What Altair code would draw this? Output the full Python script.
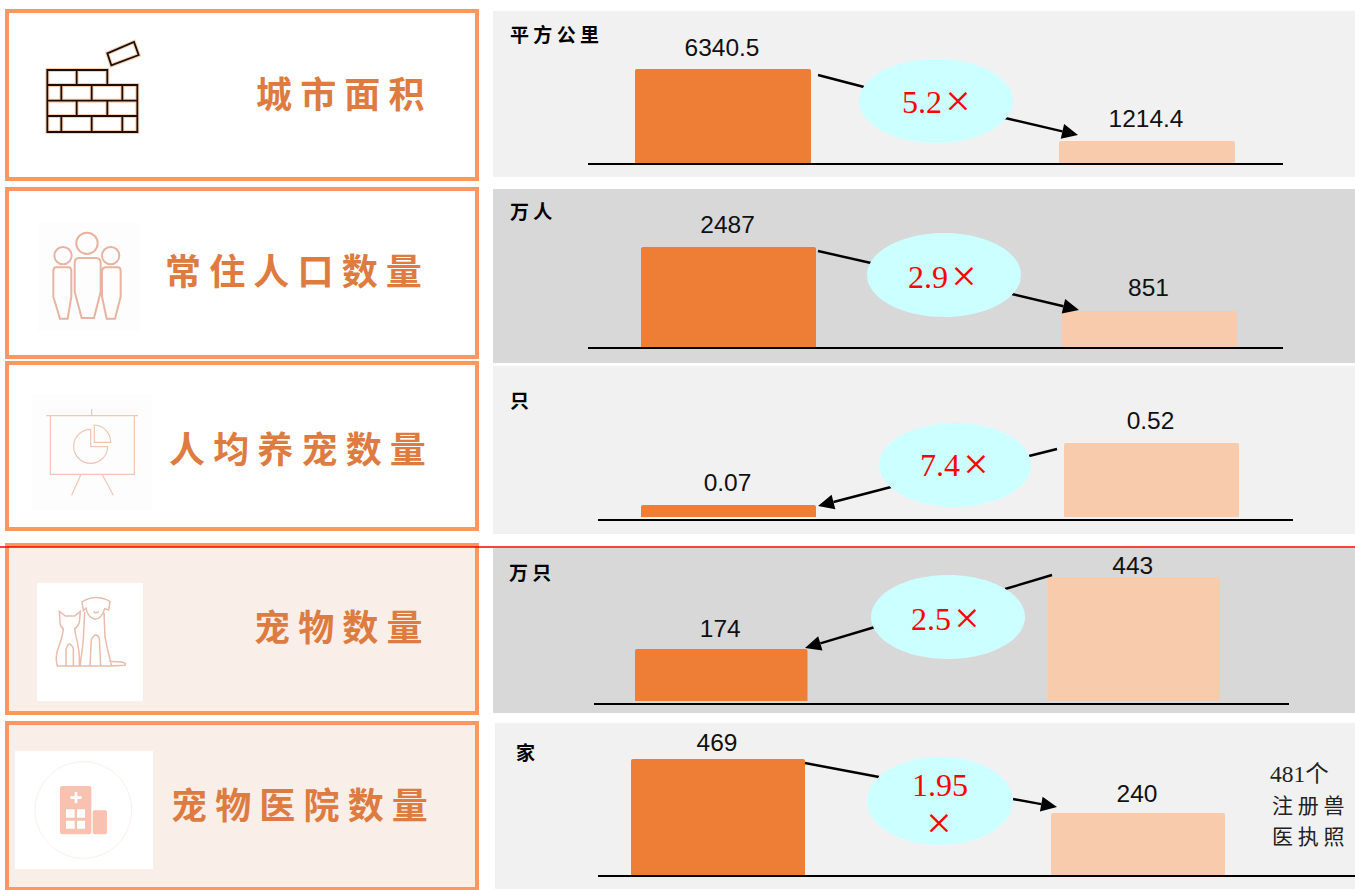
import altair as alt

# ---- values ----
titles = ["城市面积", "常住人口数量", "人均养宠数量", "宠物数量", "宠物医院数量"]
units = ["平方公里", "万人", "只", "万只", "家"]
city_a = [6340.5, 2487, 0.07, 174, 469]
city_b = [1214.4, 851, 0.52, 443, 240]
value_text = [("6340.5", "1214.4"), ("2487", "851"), ("0.07", "0.52"), ("174", "443"), ("469", "240")]
multiples = ["5.2", "2.9", "7.4", "2.5", "1.95"]
note_lines = ["481个", "注册兽", "医执照"]

# ---- layout of the five rows ----
W, H = 1355, 890
ORANGE, PEACH = "#EE7D35", "#F7CBAC"
FRAME = "#FF975E"
TITLE_INK = "#DD7B40"
CJK = "Noto Sans CJK SC"
SERIF = "Liberation Serif, Noto Sans CJK SC"
LATIN = "Liberation Sans"

ROWS = [
    dict(card=(7, 11, 477, 179), card_fill="#FFFFFF", panel=(493, 11, 1355, 177), panel_fill="#F1F1F1",
         bars=(635, 1235, 176), base=163, top=69, floor=-352, gaps=(13, 14),
         axis=(588, 1283, 164), ell=(936, 101, 77, 42), title=(256, 97), unit=(510, 36),
         lines=[(818, 75, 864, 87)], arrow=(1005, 118, 1078, 135), mult=(942, 103)),
    dict(card=(7, 189, 477, 357), card_fill="#FFFFFF", panel=(493, 189, 1355, 363), panel_fill="#D8D8D8",
         bars=(641, 1237, 175), base=347, top=247, floor=-69, gaps=(14, 15),
         axis=(588, 1283, 348), ell=(944, 275, 77, 42), title=(165, 274), unit=(510, 213),
         lines=[(818, 251, 871, 263)], arrow=(1012, 294, 1079, 310), mult=(948, 278)),
    dict(card=(7, 363, 477, 529), card_fill="#FFFFFF", panel=(493, 366, 1355, 534), panel_fill="#F1F1F1",
         bars=(641, 1239, 175), base=517, top=443, floor=-0.017, gaps=(14, 14),
         axis=(598, 1293, 520), ell=(955, 465, 76, 42), title=(169, 452), unit=(510, 402),
         lines=[(1057, 449, 1029, 456)], arrow=(891, 487, 818, 506), mult=(960, 466)),
    dict(card=(7, 545, 477, 713), card_fill="#F9EEE8", panel=(493, 548, 1355, 713), panel_fill="#D8D8D8",
         bars=(635, 1220, 172.5), base=701, top=577, floor=-20, gaps=(12, 3),
         axis=(594, 1289, 704), ell=(948, 617, 77, 42), title=(254, 630), unit=(509, 574),
         lines=[(1052, 575, 1005, 589)], arrow=(875, 627, 805, 648), mult=(951, 620)),
    dict(card=(7, 723, 477, 889), card_fill="#F9EEE8", panel=(495, 723, 1355, 889), panel_fill="#F1F1F1",
         bars=(631, 1225, 174), base=875, top=759, floor=-23, gaps=(8, 11),
         axis=(598, 1355, 876), ell=(940, 801, 73, 44), title=(171, 808), unit=(516, 754),
         lines=[(805, 763, 879, 777)], arrow=(1013, 799, 1057, 807), mult=None),
]

blank = alt.Data(values=[{}])


def box(x0, y0, x1, y1, fill, **mark):
    return alt.Chart(blank).mark_rect(fill=fill, **mark).encode(
        x=alt.value(x0), x2=alt.value(x1), y=alt.value(y0), y2=alt.value(y1))


def segment(x0, y0, x1, y1, color="#000000", width=2):
    return alt.Chart(blank).mark_rule(color=color, strokeWidth=width).encode(
        x=alt.value(x0), x2=alt.value(x1), y=alt.value(y0), y2=alt.value(y1))


def label(text, x, y, size, font=CJK, color="#000000", align="left", weight="normal", baseline="middle", **mark):
    return alt.Chart(blank).mark_text(
        text=text, font=font, fontSize=size, color=color, align=align,
        baseline=baseline, fontWeight=weight, **mark
    ).encode(x=alt.value(x), y=alt.value(y))


def outline(path, ox=0, oy=0, scale=1.0, fill=None, stroke=None, width=1.0):
    """Free-form SVG path drawn as a symbol; a symbol of size 4 keeps path units at one pixel."""
    style = dict(shape=path, size=4 * scale * scale, strokeWidth=width, opacity=1)
    style["fill"] = fill if fill else "transparent"
    style["stroke"] = stroke if stroke else "transparent"
    return alt.Chart(blank).mark_point(filled=False, **style).encode(x=alt.value(ox), y=alt.value(oy))


def ellipse_path(cx, cy, rx, ry):
    return f"M{cx-rx},{cy}A{rx},{ry} 0 1 1 {cx+rx},{cy}A{rx},{ry} 0 1 1 {cx-rx},{cy}Z"


def arrow(x0, y0, x1, y1):
    length = ((x1 - x0) ** 2 + (y1 - y0) ** 2) ** 0.5
    ux, uy = (x1 - x0) / length, (y1 - y0) / length
    bx, by = x1 - 16 * ux, y1 - 16 * uy
    head = f"M{x1},{y1}L{bx - 7.5 * uy},{by + 7.5 * ux}L{bx + 7.5 * uy},{by - 7.5 * ux}Z"
    return [segment(x0, y0, bx, by, width=2.4), outline(head, fill="#000000")]


def band_scale(left, right, band):
    step = right - left - band
    inner = 1 - band / step
    return alt.Scale(type="band", domain=["a", "b"], range=[left, right], paddingInner=inner, paddingOuter=0)


def row_marks(i, row):
    left, right, band = row["bars"]
    xs = band_scale(left, right, band)
    peak = max(city_a[i], city_b[i])
    ys = alt.Scale(domain=[row["floor"], peak], range=[row["base"], row["top"]], nice=False, zero=False)
    table = alt.Data(values=[
        {"side": "a", "value": city_a[i], "floor": row["floor"], "text": value_text[i][0]},
        {"side": "b", "value": city_b[i], "floor": row["floor"], "text": value_text[i][1]},
    ])
    x = alt.X("side:N", scale=xs, axis=None)
    y = alt.Y("value:Q", scale=ys, axis=None)
    bars = alt.Chart(table).mark_bar(cornerRadiusTopLeft=2, cornerRadiusTopRight=2).encode(
        x=x, y=y, y2="floor:Q",
        color=alt.Color("side:N", scale=alt.Scale(domain=["a", "b"], range=[ORANGE, PEACH]), legend=None),
    )
    out = [bars]
    for k, side in enumerate("ab"):
        out.append(
            alt.Chart(table).transform_filter(alt.datum.side == side).mark_text(
                font=LATIN, fontSize=24.5, color="#111111", baseline="alphabetic",
                dy=-row["gaps"][k], dx=-1
            ).encode(x=x, y=y, text="text:N")
        )
    ax0, ax1, ay = row["axis"]
    out.append(segment(ax0, ay, ax1, ay))
    for ln in row["lines"]:
        out.append(segment(*ln, width=2.4))
    out.extend(arrow(*row["arrow"]))
    out.append(outline(ellipse_path(*row["ell"]), fill="#CCFFFF"))
    if row["mult"]:
        mx, my = row["mult"]
        out.append(label(multiples[i], mx, my, 32, font=SERIF, color="#FF0000", align="right"))
        out.append(label("×", mx + 16, my - 1, 45, font=SERIF, color="#FF0000", align="center"))
    else:
        out.append(label(multiples[i], 940, 786, 32, font=SERIF, color="#FF0000", align="center"))
        out.append(label("×", 939, 824, 45, font=SERIF, color="#FF0000", align="center"))
    out.append(label(" ".join(units[i]), row["unit"][0], row["unit"][1], 19, weight="bold"))
    out.append(label(" ".join(titles[i]), row["title"][0], row["title"][1], 36, color=TITLE_INK, weight="bold"))
    return out


# ---- pictograms, described on a 3x grid relative to a corner of each card ----
def brick_icon():
    wall = ("M142,210H322V255H142Z M230,210V255 M142,255H412V396H142Z M142,302H412 M142,348H412 "
            "M184,255V302 M275,255V302 M367,255V302 M230,302V348 M322,302V348 "
            "M184,348V396 M275,348V396 M367,348V396 "
            "M322,160L402,126L416,165L334,196Z")
    return [outline(wall, scale=1 / 3, stroke="#F8CFB4", width=4),
            outline(wall, scale=1 / 3, stroke="#1A0F08", width=1.8)]


def people_icon():
    c = "#E8B3A0"
    paths = ("M261,143a32,32 0 1 0 .01,0Z M189,186a26,26 0 1 0 .01,0Z M332,186a26,26 0 1 0 .01,0Z "
             "M236,219H288Q302,219 302,234V320L282,399H245L224,320V234Q224,219 236,219Z "
             "M168,247H206Q214,247 214,258V335L203,401H180L160,335V258Q160,247 168,247Z "
             "M318,247H354Q362,247 362,258V335L345,401H320L306,335V258Q308,247 318,247Z")
    return [box(38, 223, 140, 331, "#FEFDFD"), outline(paths, 0, 185, 1 / 3, stroke=c, width=2)]


def board_icon():
    c = "#F0C6B4"
    paths = ("M139,167H414 M275,147V167 M151,167V343H403V167 M243,343L215,406 M306,343L340,406 "
             "M272,208V260H323A51,51 0 1 1 272,208Z M283,195V247H332A51,51 0 0 0 283,195Z")
    return [box(32, 395, 152, 511, "#FEFDFD"), outline(paths, 0, 360, 1 / 3, stroke=c, width=1.2)]


def pets_icon():
    c = "#E8BDAD"
    paths = ("M178,214L196,228H224L241,214L238,248Q232,262 224,266L228,290Q240,330 238,378H172"
             "Q164,350 176,320Q188,290 190,266Q178,258 180,240Z M198,378V330Q206,296 220,325V378 "
             "M246,186Q285,160 330,184L326,210L314,206Q306,236 285,238Q262,232 258,204L250,212Z "
             "M254,216L250,300Q244,350 240,378H335Q322,330 315,290L312,218 M270,378L274,300Q286,272 298,295L302,378 "
             "M335,378L375,376Q382,366 350,365L328,364 M280,215Q288,222 296,215")
    return [box(37, 583, 143, 701, "#FFFFFF"), outline(paths, 0, 540, 1 / 3, stroke=c, width=1.5)]


def clinic_icon():
    c = "#F9C1AF"
    body = "M187,213H267Q274,213 274,220V351Q274,358 267,358H187Q180,358 180,351V220Q180,213 187,213Z"
    annex = "M284,286H315Q321,286 321,292V352Q321,358 315,358H284Q278,358 278,352V292Q278,286 284,286Z"
    holes = ("M198,283H224V308H198Z M231,283H255V308H231Z M198,317H224V341H198Z M231,317H255V341H231Z "
             "M224,231H232V244H245V252H232V265H224V252H211V244H224Z")
    return [box(15, 751, 153, 869, "#FFFFFF"),
            outline("M250,140a145,145 0 1 0 .01,0Z", 0, 715, 1 / 3, stroke="#FBEFEA", width=1),
            outline(body, 0, 715, 1 / 3, fill=c), outline(annex, 0, 715, 1 / 3, fill=c),
            outline(holes, 0, 715, 1 / 3, fill="#FFFFFF")]


layers = []
for row in ROWS:
    layers.append(box(*row["panel"], row["panel_fill"]))
    x0, y0, x1, y1 = row["card"]
    layers.append(box(x0, y0, x1, y1, row["card_fill"], stroke=FRAME, strokeWidth=4))
for icon in (brick_icon, people_icon, board_icon, pets_icon, clinic_icon):
    layers.extend(icon())
for i, row in enumerate(ROWS):
    layers.extend(row_marks(i, row))

layers.append(label(note_lines[0], 1270, 775, 23.5, font=SERIF, color="#222222"))
layers.append(label(" ".join(note_lines[1]), 1272, 807, 21, font=CJK, color="#222222"))
layers.append(label(" ".join(note_lines[2]), 1272, 838, 21, font=CJK, color="#222222"))
layers.append(segment(0, 547, W, 547, color="#FF0000", width=1.5))

chart = (
    alt.layer(*layers)
    .resolve_scale(x="independent", y="independent", color="independent")
    .properties(width=W, height=H, padding=0, background="#FFFFFF",
                autosize=alt.AutoSizeParams(type="none"))
    .configure_view(stroke=None)
)

chart.save("out.html", embed_options={"renderer": "svg", "actions": False})
